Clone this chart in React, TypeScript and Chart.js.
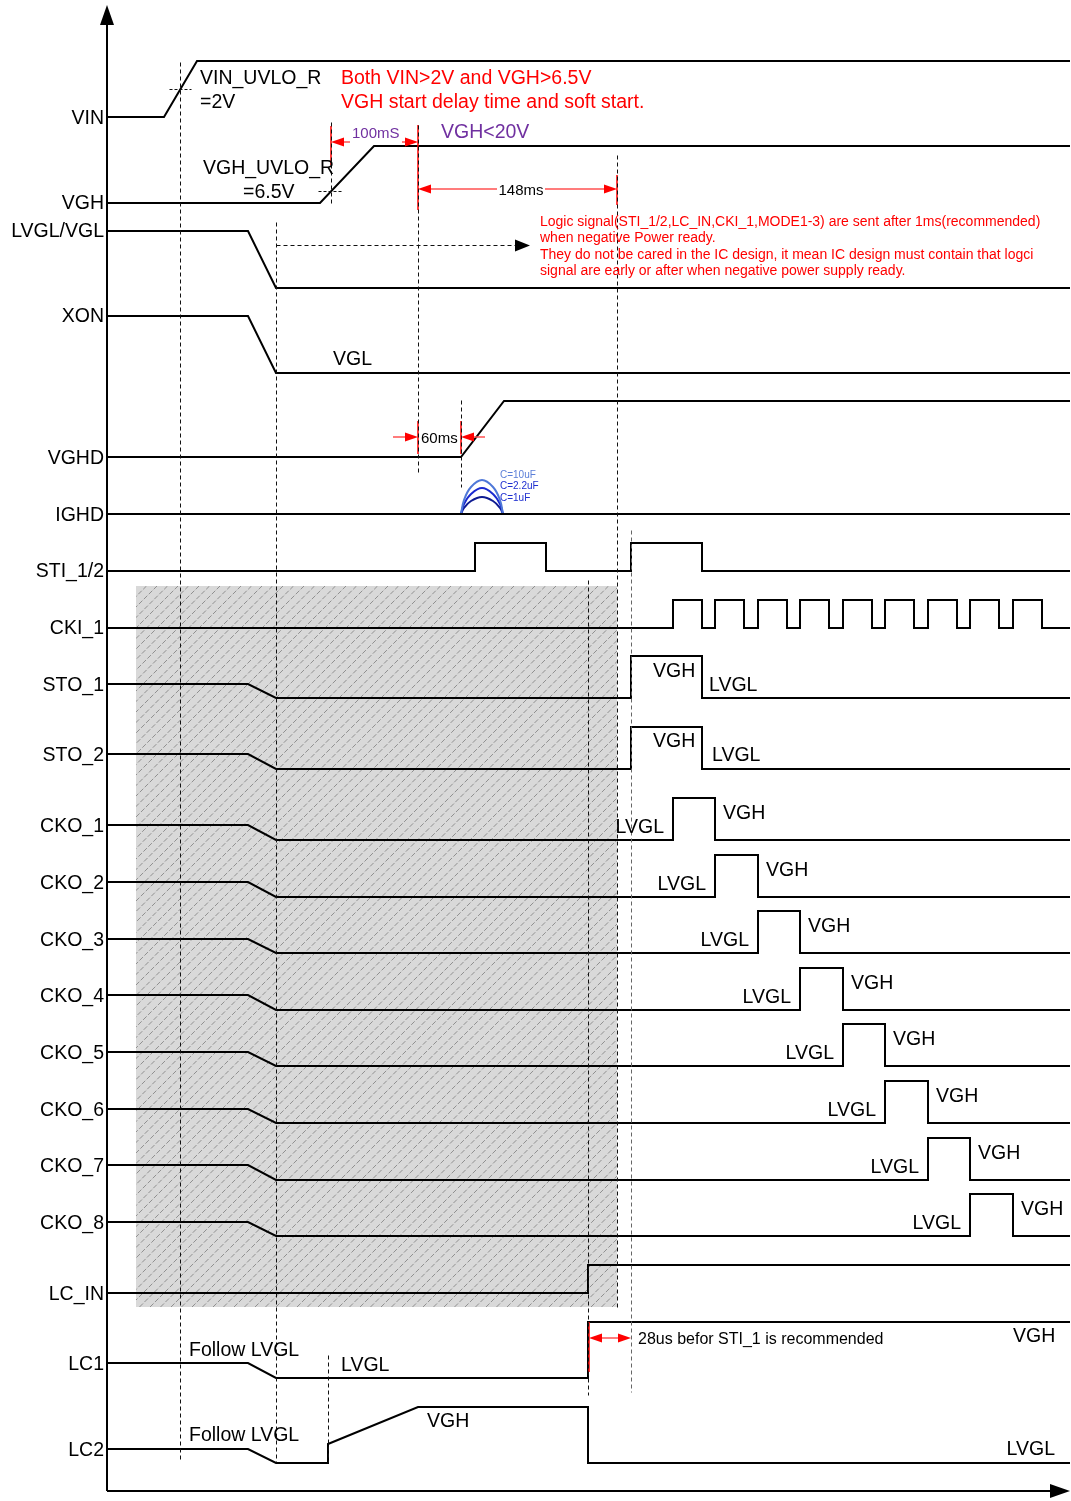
import React, { useEffect, useRef } from "react";
import { Chart, registerables } from "chart.js";

Chart.register(...registerables);

type P = [number, number];

const W = 1071;
const H = 1501;
const RED = "#ff0000";
const PURPLE = "#7030a0";
const FONT = '"Liberation Sans", Arial, sans-serif';

// ---- signal rows (label, y of label) ----
const SIGNAL_NAMES = [
  "VIN", "VGH", "LVGL/VGL", "XON", "VGHD", "IGHD", "STI_1/2", "CKI_1", "STO_1", "STO_2",
  "CKO_1", "CKO_2", "CKO_3", "CKO_4", "CKO_5", "CKO_6", "CKO_7", "CKO_8", "LC_IN", "LC1", "LC2",
];
const SIGNAL_ROWS = [117, 202, 230, 315, 457, 514, 570, 627, 684, 754, 825, 882, 939, 995, 1052, 1109, 1165, 1222, 1293, 1363, 1449];

// ---- waveforms: [time, level] ----
const VIN: P[] = [[107, 117], [164, 117], [197, 61], [1070, 61]];
const VGH: P[] = [[107, 203], [320, 203], [374, 146], [1070, 146]];
const LVGL_VGL: P[] = [[107, 231], [248, 231], [276, 288], [1070, 288]];
const XON: P[] = [[107, 316], [248, 316], [276, 373], [1070, 373]];
const VGHD: P[] = [[107, 457], [461, 457], [504, 401], [1070, 401]];
const IGHD: P[] = [[107, 514], [1070, 514]];
const IGHD_10UF: P[] = [[461, 514], [464, 500], [471, 487], [482, 480], [493, 487], [500, 500], [503, 514]];
const IGHD_2UF2: P[] = [[461, 514], [464, 504], [471, 494], [482, 488], [493, 494], [500, 504], [503, 514]];
const IGHD_1UF: P[] = [[461, 514], [464, 508], [471, 501], [482, 497], [493, 501], [500, 508], [503, 514]];
const STI: P[] = [[107, 571], [475, 571], [475, 543], [546, 543], [546, 571], [631, 571], [631, 543], [702, 543], [702, 571], [1070, 571]];
const CKI_LOW = 628;
const CKI_HIGH = 600;
const CKI_RISE = [673, 715, 758, 800, 843, 885, 928, 970, 1013];
const CKI_FALL = [702, 744, 787, 829, 872, 914, 957, 999, 1042];
const STO_1: P[] = [[107, 684], [248, 684], [276, 698], [631, 698], [631, 656], [702, 656], [702, 698], [1070, 698]];
const STO_2: P[] = [[107, 754], [248, 754], [276, 769], [631, 769], [631, 727], [702, 727], [702, 769], [1070, 769]];
const CKO_START = [825, 882, 939, 995, 1052, 1109, 1165, 1222];
const CKO_LOW = [840, 897, 953, 1010, 1066, 1123, 1180, 1236];
const CKO_HIGH = [798, 855, 911, 968, 1024, 1081, 1138, 1194];
const CKO_RISE = [673, 715, 758, 800, 843, 885, 928, 970];
const CKO_FALL = [715, 758, 800, 843, 885, 928, 970, 1013];
const LC_IN: P[] = [[107, 1293], [588, 1293], [588, 1265], [1070, 1265]];
const LC1: P[] = [[107, 1363], [248, 1363], [276, 1378], [588, 1378], [588, 1322], [1070, 1322]];
const LC2: P[] = [[107, 1449], [248, 1449], [276, 1463], [328, 1463], [328, 1444], [418, 1407], [588, 1407], [588, 1463], [1070, 1463]];

// ---- axes ----
const AXIS_LEFT: P[] = [[107, 1491], [107, 20]];
const AXIS_BOTTOM: P[] = [[107, 1491], [1054, 1491]];

// ---- dashed markers ----
const DASH_V: [number, number, number][] = [
  [180, 62, 1462], [276, 222, 1462], [331, 122, 206], [418, 125, 472], [461, 400, 487],
  [617, 155, 1307], [588, 580, 1395], [328, 1355, 1462],
];
const DASH_V_GRAY: [number, number, number][] = [[631, 530, 1392]];
const DASH_H: [number, number, number][] = [[89, 169, 191], [191, 318, 342]];
const DASH_ARROW: [number, number, number] = [245, 276, 530];

// ---- red markers ----
const RED_V: [number, number, number][] = [
  [331, 126, 165], [418, 125, 210], [617, 175, 205], [418, 421, 454], [461, 421, 454], [589, 1322, 1372],
];
// arrows: [y, from x, head at x]
const RED_ARROWS: [number, number, number][] = [
  [142, 350, 331], [142, 402, 418],
  [189, 497, 418], [189, 545, 617],
  [437, 393, 418], [437, 485, 461],
  [1338, 610, 589], [1338, 610, 631],
];

// ---- hatched region ----
const HATCH_X = [136, 617];
const HATCH_Y = [586, 1307];

type T = { t: string; x: number; y: number; c?: string; s?: number; a?: CanvasTextAlign };
const LOGIC_NOTE = [
  "Logic signal(STI_1/2,LC_IN,CKI_1,MODE1-3) are sent after 1ms(recommended)",
  "when negative Power ready.",
  "They do not be cared in the IC design, it mean IC design must contain that logci",
  "signal are early or after when negative power supply ready.",
];
const LOGIC_NOTE_Y = [221, 237, 254, 270];

const TEXTS: T[] = [
  { t: "VIN_UVLO_R", x: 200, y: 77 },
  { t: "=2V", x: 200, y: 101 },
  { t: "Both VIN>2V and VGH>6.5V", x: 341, y: 77, c: RED },
  { t: "VGH start delay time and soft start.", x: 341, y: 101, c: RED },
  { t: "100mS", x: 352, y: 132, c: PURPLE, s: 15 },
  { t: "VGH<20V", x: 441, y: 131, c: PURPLE },
  { t: "VGH_UVLO_R", x: 203, y: 167 },
  { t: "=6.5V", x: 243, y: 191 },
  { t: "148ms", x: 521, y: 189, s: 15, a: "center" },
  { t: "VGL", x: 333, y: 358 },
  { t: "60ms", x: 421, y: 437, s: 15 },
  { t: "C=10uF", x: 500, y: 474, s: 10, c: "#5b7fd8" },
  { t: "C=2.2uF", x: 500, y: 485, s: 10, c: "#1f2fd0" },
  { t: "C=1uF", x: 500, y: 497, s: 10, c: "#1f2fd0" },
  { t: "VGH", x: 653, y: 670 },
  { t: "LVGL", x: 709, y: 684 },
  { t: "VGH", x: 653, y: 740 },
  { t: "LVGL", x: 712, y: 754 },
  { t: "Follow LVGL", x: 189, y: 1349 },
  { t: "LVGL", x: 341, y: 1364 },
  { t: "28us befor STI_1 is recommended", x: 638, y: 1338, s: 16 },
  { t: "VGH", x: 1013, y: 1335 },
  { t: "Follow LVGL", x: 189, y: 1434 },
  { t: "VGH", x: 427, y: 1420 },
  { t: "LVGL", x: 1055, y: 1448, a: "right" },
];

function line(data: P[], color = "#000", width = 2, dash: number[] = [], tension = 0, nudge = 0) {
  return {
    data: data.map(([x, y]) => ({ x: x + nudge, y: y + nudge })),
    showLine: true,
    borderColor: color,
    backgroundColor: color,
    borderWidth: width,
    borderDash: dash,
    pointRadius: 0,
    fill: false,
    tension,
  };
}

function ckiPoints(): P[] {
  const pts: P[] = [[107, CKI_LOW]];
  CKI_RISE.forEach((r, i) => {
    pts.push([r, CKI_LOW], [r, CKI_HIGH], [CKI_FALL[i], CKI_HIGH], [CKI_FALL[i], CKI_LOW]);
  });
  pts.push([1070, CKI_LOW]);
  return pts;
}

function ckoPoints(k: number): P[] {
  return [
    [107, CKO_START[k]], [248, CKO_START[k]], [276, CKO_LOW[k]],
    [CKO_RISE[k], CKO_LOW[k]], [CKO_RISE[k], CKO_HIGH[k]],
    [CKO_FALL[k], CKO_HIGH[k]], [CKO_FALL[k], CKO_LOW[k]], [1070, CKO_LOW[k]],
  ];
}

const decorPlugin = {
  id: "decor",
  beforeDatasetsDraw(chart: any) {
    const { ctx, scales } = chart;
    const xs = scales.x, ys = scales.y;
    const x0 = xs.getPixelForValue(HATCH_X[0]);
    const x1 = xs.getPixelForValue(HATCH_X[1]);
    const y0 = ys.getPixelForValue(HATCH_Y[0]);
    const y1 = ys.getPixelForValue(HATCH_Y[1]);
    ctx.save();
    ctx.fillStyle = "#d9d9d9";
    ctx.fillRect(x0, y0, x1 - x0, y1 - y0);
    ctx.beginPath();
    ctx.rect(x0, y0, x1 - x0, y1 - y0);
    ctx.clip();
    ctx.strokeStyle = "#909090";
    ctx.lineWidth = 1;
    ctx.setLineDash([5, 2]);
    const hgt = y1 - y0;
    for (let x = x0 - hgt; x < x1 + 10; x += 10.5) {
      ctx.beginPath();
      ctx.moveTo(x, y1);
      ctx.lineTo(x + hgt, y0);
      ctx.stroke();
    }
    ctx.restore();
  },
  afterDatasetsDraw(chart: any) {
    const { ctx, scales } = chart;
    const px = (v: number) => scales.x.getPixelForValue(v);
    const py = (v: number) => scales.y.getPixelForValue(v);
    ctx.save();
    const head = (tipX: number, tipY: number, dx: number, dy: number, len: number, half: number, color: string) => {
      ctx.fillStyle = color;
      ctx.beginPath();
      ctx.moveTo(tipX, tipY);
      ctx.lineTo(tipX - dx * len - dy * half, tipY - dy * len - dx * half);
      ctx.lineTo(tipX - dx * len + dy * half, tipY - dy * len + dx * half);
      ctx.closePath();
      ctx.fill();
    };
    head(px(107), py(5), 0, -1, 20, 7, "#000");
    head(px(1070), py(1491), 1, 0, 20, 7, "#000");
    head(px(DASH_ARROW[2]), py(DASH_ARROW[0]) + 0.5, 1, 0, 15, 6, "#000");
    RED_ARROWS.forEach(([y, xFrom, xTo]) => {
      const yy = py(y);
      const a = px(xFrom), b = px(xTo);
      const d = Math.sign(b - a);
      ctx.strokeStyle = "#ff5050";
      ctx.lineWidth = 1.5;
      ctx.setLineDash([]);
      ctx.beginPath();
      ctx.moveTo(a, yy);
      ctx.lineTo(b - d * 6, yy);
      ctx.stroke();
      head(b, yy, d, 0, 13, 4.5, RED);
    });
    ctx.textBaseline = "middle";
    const drawText = (t: T) => {
      ctx.font = `${t.s ?? 19.5}px ${FONT}`;
      ctx.fillStyle = t.c ?? "#000";
      ctx.textAlign = t.a ?? "left";
      ctx.fillText(t.t, px(t.x), py(t.y) + 1.5);
    };
    SIGNAL_NAMES.forEach((n, i) => drawText({ t: n, x: 104, y: SIGNAL_ROWS[i], a: "right" }));
    LOGIC_NOTE.forEach((t, i) => drawText({ t, x: 540, y: LOGIC_NOTE_Y[i], s: 14, c: RED }));
    TEXTS.forEach(drawText);
    CKO_START.forEach((_, k) => {
      drawText({ t: "LVGL", x: CKO_RISE[k] - 9, y: CKO_LOW[k] - 14, a: "right" });
      drawText({ t: "VGH", x: CKO_FALL[k] + 8, y: CKO_HIGH[k] + 14 });
    });
    ctx.restore();
  },
};

export default function App() {
  const ref = useRef<HTMLCanvasElement | null>(null);
  useEffect(() => {
    if (!ref.current) return;
    const datasets: any[] = [];
    DASH_V.forEach(([x, a, b]) => datasets.push(line([[x, a], [x, b]], "#111", 1, [4, 3], 0, 0.5)));
    DASH_V_GRAY.forEach(([x, a, b]) => datasets.push(line([[x, a], [x, b]], "#666", 1, [4, 3], 0, 0.5)));
    DASH_H.forEach(([y, a, b]) => datasets.push(line([[a, y], [b, y]], "#111", 1, [3, 2], 0, 0.5)));
    datasets.push(line([[DASH_ARROW[1], DASH_ARROW[0]], [DASH_ARROW[2] - 12, DASH_ARROW[0]]], "#111", 1, [4, 3], 0, 0.5));
    RED_V.forEach(([x, a, b]) => datasets.push(line([[x, a], [x, b]], RED, 1.5)));
    datasets.push(line(AXIS_LEFT, "#000", 2));
    datasets.push(line(AXIS_BOTTOM, "#000", 2));
    [VIN, VGH, LVGL_VGL, XON, VGHD, IGHD, STI, ckiPoints(), STO_1, STO_2].forEach((d) => datasets.push(line(d)));
    CKO_START.forEach((_, k) => datasets.push(line(ckoPoints(k))));
    [LC_IN, LC1, LC2].forEach((d) => datasets.push(line(d)));
    datasets.push(line(IGHD_10UF, "#4f78d8", 2, [], 0.4));
    datasets.push(line(IGHD_2UF2, "#1a2ad0", 2, [], 0.4));
    datasets.push(line(IGHD_1UF, "#0d1a90", 2, [], 0.4));

    const chart = new Chart(ref.current, {
      type: "scatter",
      data: { datasets },
      options: {
        animation: false,
        responsive: false,
        maintainAspectRatio: false,
        events: [],
        layout: { padding: 0 },
        plugins: { legend: { display: false }, tooltip: { enabled: false } },
        scales: {
          x: { type: "linear", min: 0, max: W, display: false },
          y: { type: "linear", min: 0, max: H, reverse: true, display: false },
        },
      } as any,
      plugins: [decorPlugin],
    });
    return () => chart.destroy();
  }, []);
  return (
    <div style={{ position: "absolute", left: 0, top: 0, width: W, height: H, background: "#fff" }}>
      <canvas ref={ref} width={W} height={H} style={{ width: W, height: H, display: "block" }} />
    </div>
  );
}
